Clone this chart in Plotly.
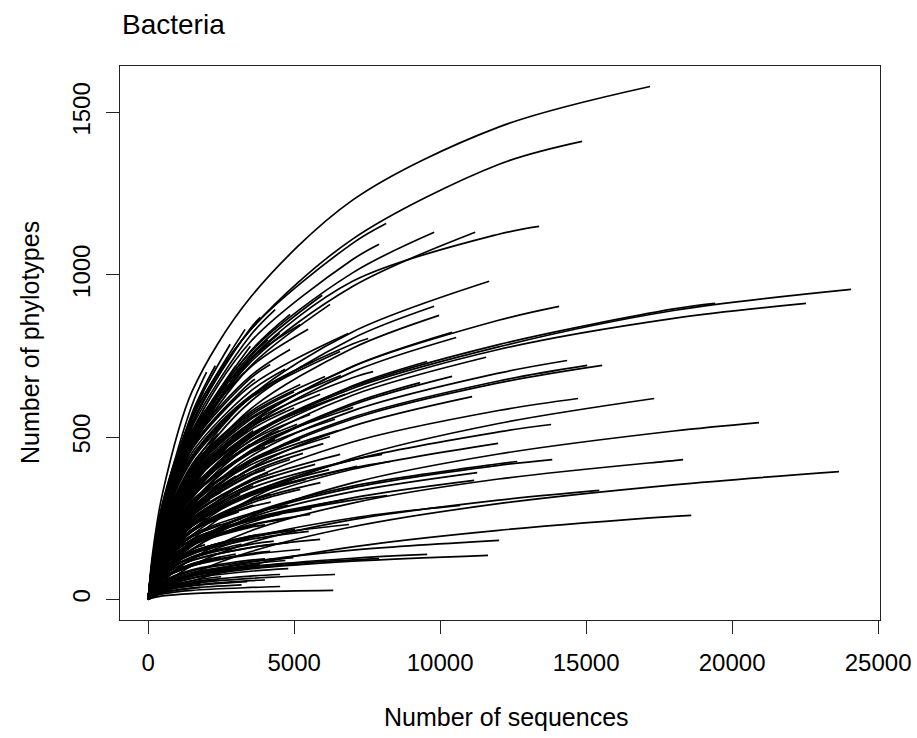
import plotly.graph_objects as go

# ---------------- data ----------------
# x positions (number of sequences) at which each curve's richness is given
depth_steps = [0, 150, 500, 1500, 3500, 7000, 12000, 18000]

# final depth (number of sequences) reached by each sample
end_sequences = [
    17190, 14860, 8150, 9795, 11200, 13390, 7910, 11680, 14075, 9795,
    9965, 10410, 10550, 24075, 22530, 19420, 14350, 15550, 15035, 14725,
    17330, 13800, 20920, 12640, 13840, 18320, 23660, 15450, 18600, 9555,
    11575, 10410, 9315, 11095, 11985, 11270, 11165, 8290, 8185, 10685,
    6880, 12020, 9555, 11640, 7910, 6400, 6340,
    2810, 3320, 3840, 4350, 4860, 5210, 5960, 6230, 5480, 6850,
    7535, 5650, 6060, 7705, 6575, 4860, 4180, 3660, 3150, 4690,
    5210, 5890, 6750, 7020, 6400, 5550, 4690, 3840, 2980, 2295,
    1780, 2640, 3490, 4350, 5210, 6230, 8015, 7160, 6575, 5720,
    4860, 4010, 3320, 2470, 1610, 1270, 2120, 3150, 4180, 5210,
    6130, 6750, 5550, 4520, 3490, 2470, 1610, 1100, 1950, 2980,
    4010, 5030, 5890, 5210, 4180, 3150, 2120, 4970, 3840, 2810,
    1610, 4520, 3390, 4520, 1780, 925, 750, 580, 925, 1270,
    750, 1100, 1440, 925, 1780, 2295, 2640, 2000,
    500, 400, 650, 1000, 1350, 1200, 2300, 3000, 3700, 2600,
    4300, 5900, 3600, 2150, 5000, 6600, 4100, 3000,
    800, 850, 1050, 1150, 1250, 1350, 1500, 1600, 1700, 1800,
    1900, 2000, 2100, 2200, 2300, 2400, 2500, 2600, 2700, 2800,
    2900, 3000, 3100, 3200, 3300, 3400, 3500, 3600, 3700, 3800,
    3900, 4000, 4100, 4200, 4300, 4400, 4500, 4600, 4700, 4800,
    5000, 5100, 5300, 5400, 5600, 5800, 6000, 6200, 6500,
    2200, 3000, 1400, 3800, 4700, 2600, 900, 700, 600, 1000,
    1250, 1600, 2300, 3500, 4500, 1900,
    1200, 1200, 1200, 1800, 1800, 1800, 1800, 2500, 2500, 2500,
    2500, 3200, 3200, 3200, 3200, 4000, 4000, 4000, 4800, 4800,
    4800, 5500, 5500, 1000, 700, 1500, 2000, 2800, 3600, 1400,
]

# final number of phylotypes of each sample
end_phylotypes = [
    1580, 1411, 1158, 1131, 1131, 1149, 1094, 980, 903, 903,
    875, 823, 807, 955, 912, 912, 736, 721, 721, 619,
    619, 539, 545, 425, 431, 431, 394, 336, 259, 733,
    746, 687, 668, 625, 481, 391, 367, 425, 320, 290,
    231, 182, 139, 136, 126, 77, 28,
    786, 832, 869, 893, 878, 847, 937, 909, 832, 819,
    804, 733, 687, 702, 764, 770, 724, 678, 632, 709,
    662, 632, 632, 592, 555, 570, 585, 555, 524, 585,
    524, 462, 478, 493, 493, 502, 447, 410, 447, 416,
    431, 400, 385, 370, 400, 339, 308, 324, 324, 339,
    296, 308, 262, 262, 246, 231, 216, 169, 169, 185,
    200, 216, 185, 154, 148, 136, 123, 129, 108, 92,
    77, 77, 55, 40, 37, 62, 123, 185, 246, 293,
    308, 400, 462, 430, 616, 678, 724, 700,
    200, 120, 280, 350, 240, 100, 60, 280, 330, 260,
    380, 360, 520, 430, 590, 690, 800, 720,
    250, 330, 300, 380, 200, 430, 480, 300, 520, 380,
    250, 560, 450, 350, 620, 510, 420, 300, 660, 560,
    470, 380, 270, 600, 700, 520, 430, 350, 230, 640,
    560, 470, 390, 300, 180, 600, 520, 440, 360, 250,
    640, 540, 450, 370, 280, 600, 480, 400, 520,
    150, 140, 140, 200, 120, 90, 180, 240, 150, 420,
    480, 560, 720, 780, 820, 640,
    60, 150, 230, 50, 110, 190, 280, 70, 130, 200,
    330, 45, 100, 170, 250, 60, 125, 230, 95, 175,
    290, 110, 210, 90, 160, 330, 250, 160, 290, 360,
]

# phylotypes observed at each of depth_steps (only the steps below the final depth)
phylotypes_at_steps = [
    [0, 140, 330, 640, 930, 1230, 1455],
    [0, 125, 290, 560, 830, 1110, 1340],
    [0, 96, 262, 541, 830, 1097],
    [0, 88, 240, 497, 762, 1006],
    [0, 85, 230, 476, 730, 964],
    [0, 90, 240, 480, 740, 980, 1125],
    [0, 92, 250, 517, 793, 1047],
    [0, 72, 197, 407, 624, 824],
    [0, 63, 171, 354, 543, 717, 860],
    [0, 71, 192, 397, 609, 804],
    [0, 68, 185, 382, 586, 774],
    [0, 63, 171, 354, 544, 718],
    [0, 62, 167, 346, 531, 701],
    [0, 60, 160, 330, 500, 650, 778, 890],
    [0, 58, 155, 320, 490, 640, 770, 866],
    [0, 62, 165, 335, 505, 655, 785, 895],
    [0, 51, 139, 287, 440, 581, 697],
    [0, 49, 133, 274, 421, 556, 667],
    [0, 49, 134, 277, 425, 561, 673],
    [0, 43, 116, 239, 367, 485, 582],
    [0, 27, 79, 183, 309, 435, 542],
    [0, 38, 103, 213, 326, 430, 516],
    [0, 22, 65, 152, 255, 359, 448, 519],
    [0, 31, 83, 172, 264, 349, 418],
    [0, 30, 82, 170, 260, 344, 413],
    [0, 18, 54, 125, 211, 297, 371, 428],
    [0, 10, 31, 79, 147, 224, 295, 353],
    [0, 15, 44, 104, 175, 246, 306],
    [0, 7, 22, 57, 106, 162, 213, 256],
    [0, 58, 157, 325, 498, 658],
    [0, 55, 150, 311, 476, 629],
    [0, 53, 143, 296, 454, 599],
    [0, 53, 144, 298, 458, 604],
    [0, 47, 128, 264, 404, 534],
    [0, 35, 96, 198, 304, 401],
    [0, 29, 79, 164, 252, 332],
    [0, 28, 75, 155, 237, 313],
    [0, 51, 124, 227, 322, 405],
    [0, 39, 94, 172, 243, 306],
    [0, 22, 60, 124, 190, 251],
    [0, 42, 88, 144, 192],
    [0, 13, 36, 75, 115, 152],
    [0, 16, 39, 71, 101, 127],
    [0, 15, 36, 66, 94, 118],
    [0, 22, 46, 76, 101, 122],
    [0, 14, 30, 49, 65],
    [0, 5, 11, 18, 24],
    [0, 101, 274, 567],
    [0, 99, 269, 555],
    [0, 97, 263, 544, 835],
    [0, 94, 256, 530, 813],
    [0, 89, 241, 498, 764],
    [0, 118, 285, 521, 740],
    [0, 87, 237, 491, 753],
    [0, 83, 226, 468, 718],
    [0, 114, 276, 504, 715],
    [0, 105, 253, 463, 657],
    [0, 100, 242, 442, 627, 787],
    [0, 99, 241, 440, 624],
    [0, 91, 221, 403, 572],
    [0, 87, 210, 383, 543, 683],
    [0, 99, 239, 437, 620],
    [0, 110, 266, 485, 688],
    [0, 108, 263, 480, 681],
    [0, 106, 258, 471, 668],
    [0, 105, 254, 464],
    [0, 102, 247, 452, 641],
    [0, 92, 223, 408, 578],
    [0, 85, 205, 374, 531],
    [0, 81, 196, 359, 509],
    [0, 75, 182, 332, 471, 591],
    [0, 72, 175, 320, 454],
    [0, 78, 188, 344, 488],
    [0, 84, 204, 373, 529],
    [0, 86, 207, 379, 537],
    [0, 89, 215, 393],
    [0, 110, 266, 486],
    [0, 110, 266, 485],
    [0, 82, 199, 363],
    [0, 76, 185, 338],
    [0, 73, 176, 322, 457],
    [0, 69, 166, 303, 430],
    [0, 66, 160, 292, 414],
    [0, 55, 132, 241, 342, 430],
    [0, 52, 125, 229, 324, 407],
    [0, 58, 140, 256, 363],
    [0, 56, 136, 249, 353],
    [0, 61, 149, 271, 385],
    [0, 61, 147, 269, 382],
    [0, 63, 152, 277],
    [0, 67, 163, 298],
    [0, 88, 212, 387],
    [0, 83, 201],
    [0, 60, 145, 264],
    [0, 54, 130, 238],
    [0, 49, 118, 215, 305],
    [0, 47, 114, 209, 296],
    [0, 39, 95, 173, 245],
    [0, 40, 96, 175, 248],
    [0, 50, 106, 173, 230],
    [0, 53, 112, 183, 243],
    [0, 53, 113, 185],
    [0, 56, 118, 194],
    [0, 61, 129, 210],
    [0, 55, 117],
    [0, 44, 94, 154],
    [0, 42, 89, 146],
    [0, 42, 88, 144, 192],
    [0, 42, 89, 146, 195],
    [0, 35, 73, 120, 160],
    [0, 30, 63, 103, 138],
    [0, 31, 65, 106, 141],
    [0, 30, 64, 105],
    [0, 31, 66, 109],
    [0, 25, 54, 88, 117],
    [0, 23, 48, 79, 105],
    [0, 21, 45, 74],
    [0, 22, 46, 75],
    [0, 16, 33, 54, 72],
    [0, 12, 26, 42],
    [0, 8, 17, 28, 37],
    [0, 10, 21, 35],
    [0, 22, 46],
    [0, 48, 101],
    [0, 70, 169],
    [0, 71, 171],
    [0, 72, 174],
    [0, 100, 241],
    [0, 105, 255],
    [0, 106, 258],
    [0, 124, 300],
    [0, 100, 271, 560],
    [0, 96, 261, 540],
    [0, 96, 260, 538],
    [0, 106, 289, 598],
    [0, 83],
    [0, 64],
    [0, 98, 238],
    [0, 97, 234],
    [0, 72, 153],
    [0, 32, 67],
    [0, 15, 31, 52],
    [0, 47, 115, 209],
    [0, 52, 125, 228, 324],
    [0, 62, 131, 214],
    [0, 56, 137, 249, 354],
    [0, 48, 117, 213, 302],
    [0, 82, 199, 363],
    [0, 83, 201, 367],
    [0, 83, 202, 368, 522],
    [0, 89, 216, 394, 559],
    [0, 87, 236, 487, 747],
    [0, 90, 244, 503],
    [0, 78, 189],
    [0, 103, 249],
    [0, 76, 183],
    [0, 96, 232],
    [0, 63, 133],
    [0, 102, 247],
    [0, 108, 263],
    [0, 66, 159, 290],
    [0, 111, 269, 491],
    [0, 79, 192, 350],
    [0, 66, 140, 229],
    [0, 111, 270, 493],
    [0, 88, 212, 388],
    [0, 67, 162, 296],
    [0, 117, 282, 515],
    [0, 94, 228, 416],
    [0, 76, 184, 337],
    [0, 72, 153, 251],
    [0, 116, 281, 513],
    [0, 97, 235, 429],
    [0, 80, 195, 356],
    [0, 64, 155, 284],
    [0, 61, 129, 211],
    [0, 99, 239, 437],
    [0, 114, 276, 505],
    [0, 84, 203, 371],
    [0, 69, 166, 304],
    [0, 55, 134, 245, 347],
    [0, 49, 104, 170, 226],
    [0, 99, 240, 438, 622],
    [0, 86, 208, 380, 539],
    [0, 71, 173, 317, 450],
    [0, 59, 142, 260, 369],
    [0, 62, 131, 214, 285],
    [0, 37, 78, 127, 170],
    [0, 88, 214, 391, 554],
    [0, 76, 184, 336, 477],
    [0, 64, 154, 282, 400],
    [0, 52, 126, 229, 325],
    [0, 50, 105, 172, 228],
    [0, 90, 219, 399, 566],
    [0, 76, 183, 335, 475],
    [0, 62, 151, 275, 391],
    [0, 51, 123, 225, 319],
    [0, 53, 113, 184, 245],
    [0, 80, 196, 357, 506],
    [0, 64, 155, 282, 401],
    [0, 53, 128, 233, 330],
    [0, 68, 163, 298, 423],
    [0, 38, 80, 131],
    [0, 32, 67, 110],
    [0, 42, 88],
    [0, 42, 90, 147, 195],
    [0, 24, 51, 83, 110],
    [0, 21, 45, 74],
    [0, 53, 127],
    [0, 81, 196],
    [0, 65, 137],
    [0, 116, 281],
    [0, 118, 287],
    [0, 123, 297, 542],
    [0, 102, 277, 573],
    [0, 90, 246, 509],
    [0, 85, 232, 480, 736],
    [0, 100, 272, 562],
    [0, 19, 40],
    [0, 47, 100],
    [0, 72, 153],
    [0, 14, 29, 47],
    [0, 30, 63, 103],
    [0, 51, 109, 178],
    [0, 76, 160, 262],
    [0, 17, 36, 58],
    [0, 31, 66, 109],
    [0, 48, 102, 167],
    [0, 80, 169, 276],
    [0, 10, 21, 35],
    [0, 22, 47, 77],
    [0, 38, 80, 131],
    [0, 56, 118, 193],
    [0, 13, 27, 43, 58],
    [0, 26, 55, 91, 121],
    [0, 48, 102, 167, 222],
    [0, 19, 40, 65, 87],
    [0, 35, 73, 120, 160],
    [0, 57, 122, 199, 265],
    [0, 21, 44, 73, 97],
    [0, 40, 85, 139, 185],
    [0, 31, 65],
    [0, 64, 135],
    [0, 75, 181],
    [0, 65, 138, 225],
    [0, 37, 79, 129],
    [0, 62, 132, 216, 288],
    [0, 84, 203],
]

x_ticks = [0, 5000, 10000, 15000, 20000, 25000]
y_ticks = [0, 500, 1000, 1500]
chart_title = "Bacteria"
x_title = "Number of sequences"
y_title = "Number of phylotypes"

# ---------------- figure ----------------
FONT = "Liberation Sans, Arial, Helvetica, sans-serif"

fig = go.Figure()
for n, s, row in zip(end_sequences, end_phylotypes, phylotypes_at_steps):
    k = min(sum(1 for d in depth_steps if d < n), len(row))
    xs = depth_steps[:k] + [n]
    ys = row[:k] + [s]
    fig.add_trace(go.Scatter(
        x=xs, y=ys, mode="lines",
        line=dict(color="black", width=1.7, shape="spline", smoothing=0.9),
        hoverinfo="skip", showlegend=False,
    ))

axis_common = dict(
    showgrid=False, zeroline=False, automargin=False,
    showline=True, linecolor="#222222", linewidth=1.2, mirror=True,
    ticks="outside", ticklen=13, tickwidth=1.2, tickcolor="#222222",
    tickfont=dict(family=FONT, size=24, color="black"),
)

fig.update_layout(
    width=917, height=738, autosize=False,
    margin=dict(l=120, r=37, t=66, b=118, autoexpand=False),
    paper_bgcolor="white", plot_bgcolor="white",
    showlegend=False,
    xaxis=dict(range=[-964, 25064], tickvals=x_ticks,
               ticktext=[str(v) for v in x_ticks], ticklabelstandoff=8,
               **axis_common),
    yaxis=dict(range=[-63.2, 1643.2], tickvals=y_ticks,
               ticktext=[str(v) for v in y_ticks], tickangle=-90,
               ticklabelstandoff=6, **axis_common),
    annotations=[
        dict(text=chart_title, xref="paper", yref="paper", x=0, y=1.0758,
             xanchor="left", yanchor="middle", showarrow=False,
             font=dict(family=FONT, size=28, color="black")),
        dict(text=x_title, xref="paper", yref="paper", x=0.509, y=-0.1751,
             xanchor="center", yanchor="middle", showarrow=False,
             font=dict(family=FONT, size=25, color="black")),
        dict(text=y_title, xref="paper", yref="paper", x=-0.1184, y=0.5,
             xanchor="center", yanchor="middle", showarrow=False, textangle=-90,
             font=dict(family=FONT, size=25, color="black")),
    ],
)

fig.write_html(
    "out.html",
    config={"displayModeBar": False, "responsive": False},
    post_script="document.body.style.margin='0';document.body.style.overflow='hidden';",
)
